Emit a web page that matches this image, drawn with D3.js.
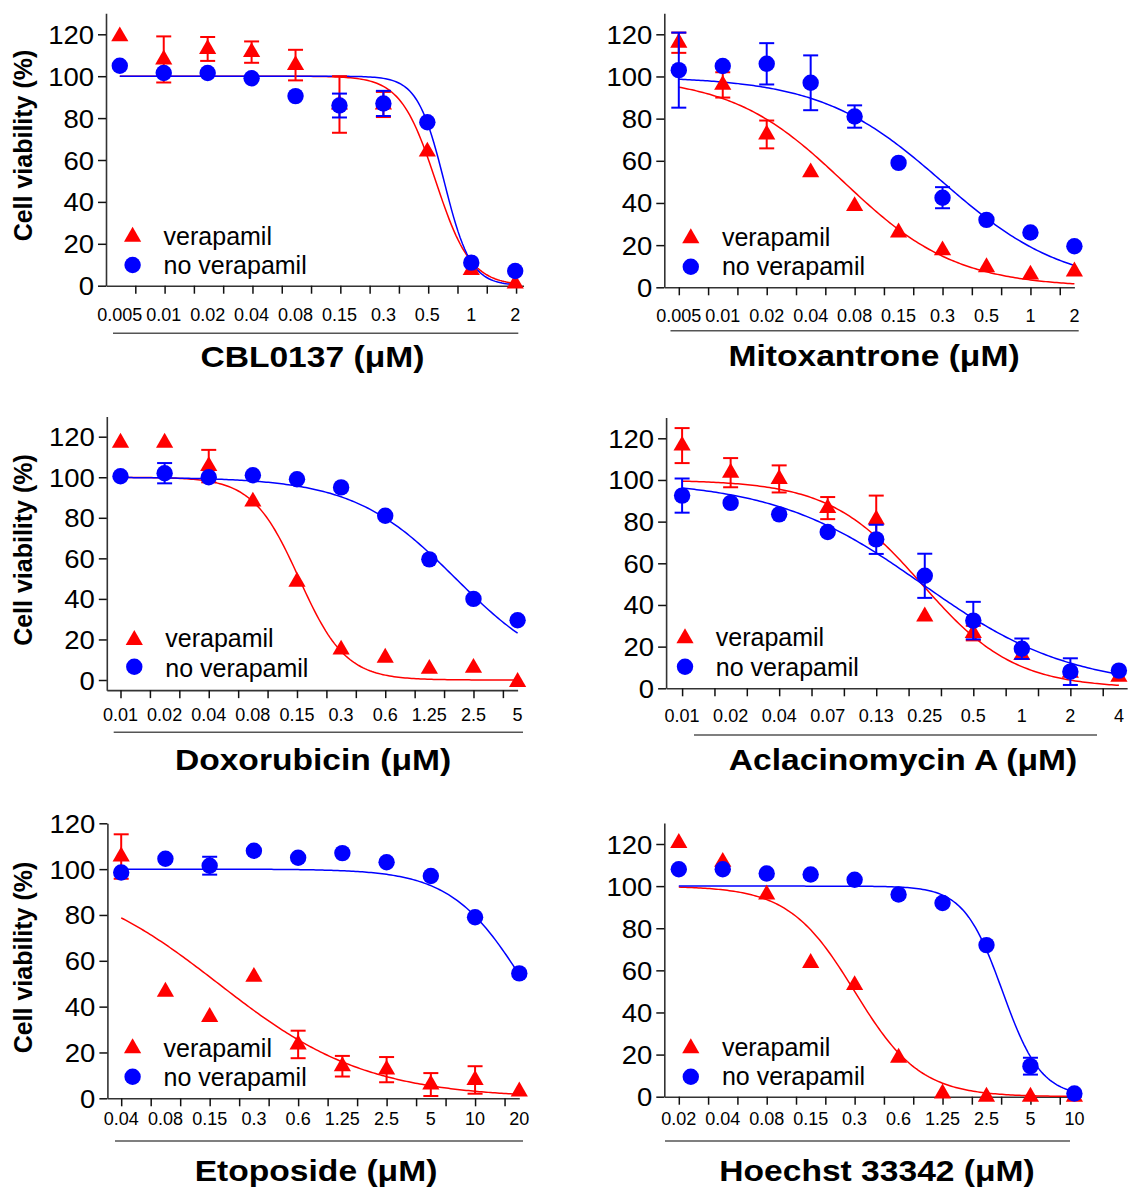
<!DOCTYPE html>
<html><head><meta charset="utf-8">
<script src="https://cdn.jsdelivr.net/npm/d3@7"></script>
<style>
html,body{margin:0;padding:0;background:#fff;}
svg{display:block;}
</style></head><body>
<svg id="chart" width="1128" height="1190"></svg>
<script>
// ---------- data ----------
const seriesNames = ["verapamil", "no verapamil"];
const yTickValues = [0, 20, 40, 60, 80, 100, 120];

// CBL0137
const cblDoses = ["0.005","0.01","0.02","0.04","0.08","0.15","0.3","0.5","1","2"];
const cblVera = [119, 108, 113, 111.5, 105.3, 86.5, 86.5, 64, 7.5, 1];
const cblVeraSD = [0, 11, 5.7, 5.1, 7.3, 13.5, 6, 0, 0, 0];
const cblNoVera = [105, 101.5, 101.5, 99, 90.5, 86, 87, 78, 11, 7];
const cblNoVeraSD = [0, 0, 0, 0, 0, 5.7, 6, 0, 0, 0];
const cblFitVera = [100, 0, 7.19, 2.5];
const cblFitNoVera = [100, 0, 7.38, 3.3];

// Mitoxantrone
const mitoDoses = ["0.005","0.01","0.02","0.04","0.08","0.15","0.3","0.5","1","2"];
const mitoVera = [116, 96, 72.5, 54.5, 38.5, 26, 17.5, 9.5, 6, 7.5];
const mitoVeraSD = [4.8, 6, 6.6, 0, 0, 0, 0, 0, 0, 0];
const mitoNoVera = [103, 105, 106, 97, 81, 59, 42.5, 32, 26, 19.5];
const mitoNoVeraSD = [17.8, 0, 9.8, 13, 5.3, 0, 5, 0, 0, 0];
const mitoFitVera = [100, 0, 3.75, 0.78];
const mitoFitNoVera = [100, 0, 6.0, 0.72];

// Doxorubicin
const doxoDoses = ["0.01","0.02","0.04","0.08","0.15","0.3","0.6","1.25","2.5","5"];
const doxoVera = [117, 117, 105.5, 88, 48.5, 15, 11, 5.5, 6, -1];
const doxoVeraSD = [0, 0, 8, 0, 0, 0, 0, 0, 0, 0];
const doxoNoVera = [100.5, 102, 100, 101, 99, 95, 81, 59.5, 40, 29.5];
const doxoNoVeraSD = [0, 5, 0, 0, 0, 0, 0, 0, 0, 0];
const doxoFitVera = [100, 0, 4.05, 1.9];
const doxoFitNoVera = [100, 0, 7.6, 0.86];

// Aclacinomycin A
const aclaDoses = ["0.01","0.02","0.04","0.07","0.13","0.25","0.5","1","2","4"];
const aclaVera = [116.5, 103.5, 100.5, 86.5, 81, 34.5, 26.5, 16, 7.5, 5.5];
const aclaVeraSD = [8.4, 7, 6.5, 5.3, 11.5, 0, 3.5, 0, 0, 0];
const aclaNoVera = [92.5, 89, 83.5, 75, 71.5, 54, 32.5, 19, 8, 8.5];
const aclaNoVeraSD = [8.2, 0, 0, 0, 7, 10.6, 9, 4.9, 6.4, 0];
const aclaFitVera = [100, 0, 4.94, 1.045];
const aclaFitNoVera = [100, 0, 4.95, 0.65];

// Etoposide
const etoDoses = ["0.04","0.08","0.15","0.3","0.6","1.25","2.5","5","10","20"];
const etoVera = [105.5, 46.5, 35.5, 53, 23.5, 14, 12.5, 6, 8, 3];
const etoVeraSD = [9.7, 0, 0, 0, 6, 4.5, 5.5, 5, 6, 0];
const etoNoVera = [98.5, 104.5, 101.5, 108, 105, 107, 103, 97, 79, 54.5];
const etoNoVeraSD = [0, 0, 3.9, 0, 0, 0, 0, 0, 0, 0];
const etoFitVera = [100, 0, 2.2, 0.595];
const etoFitNoVera = [100, 0, 9.13, 1.2];

// Hoechst 33342
const hoeDoses = ["0.02","0.04","0.08","0.15","0.3","0.6","1.25","2.5","5","10"];
const hoeVera = [120.5, 111.5, 96, 63.5, 53, 18.5, 1.5, 0, 0, 0];
const hoeVeraSD = [0, 0, 0, 0, 0, 0, 0, 0, 0, 0];
const hoeNoVera = [108, 108, 106, 105.5, 103, 96, 92, 72, 14.5, 1.5];
const hoeNoVeraSD = [0, 0, 0, 0, 0, 0, 0, 0, 4, 0];
const hoeFitVera = [100, 0, 4.0, 1.34];
const hoeFitNoVera = [100, 0, 7.365, 2.28];

// ---------- layout ----------
const panels = [
  {title:"CBL0137 (\u03BCM)", doses:cblDoses, vera:cblVera, veraSD:cblVeraSD, nov:cblNoVera, novSD:cblNoVeraSD, fitV:cblFitVera, fitN:cblFitNoVera,
   yDom:[0,130], axisX:106, x0:119.8, x9:515.2, xEnd:9.19, tickStart:0.353, y0:285.7, y120:34.3,
   labelY:320.7, lineY:333.3, lineX:[113,518.3], titleX:312.4, titleY:367.3, legMX:132.6, legTX:163.6, legY:[236.7,265], legTY:[245,273.5], yTitleY:145.5},
  {title:"Mitoxantrone (\u03BCM)", doses:mitoDoses, vera:mitoVera, veraSD:mitoVeraSD, nov:mitoNoVera, novSD:mitoNoVeraSD, fitV:mitoFitVera, fitN:mitoFitNoVera,
   yDom:[0,130], axisX:664.3, x0:678.8, x9:1074.4, xEnd:9.0, tickStart:0, y0:287.3, y120:34.3,
   labelY:321.7, lineY:330.7, lineX:[670.5,1078.7], titleX:874, titleY:366, legMX:690.8, legTX:721.9, legY:[238.3,266.7], legTY:[246,274.5], yTitleY:null},
  {title:"Doxorubicin (\u03BCM)", doses:doxoDoses, vera:doxoVera, veraSD:doxoVeraSD, nov:doxoNoVera, novSD:doxoNoVeraSD, fitV:doxoFitVera, fitN:doxoFitNoVera,
   yDom:[-5,130], axisX:106.8, x0:120.5, x9:517.6, xEnd:9.0, tickStart:0, y0:680, y120:436.7,
   labelY:721, lineY:732.3, lineX:[113.7,523], titleX:313, titleY:770, legMX:134.3, legTX:165.3, legY:[640,666.7], legTY:[647.3,676.7], yTitleY:550},
  {title:"Aclacinomycin A (\u03BCM)", doses:aclaDoses, vera:aclaVera, veraSD:aclaVeraSD, nov:aclaNoVera, novSD:aclaNoVeraSD, fitV:aclaFitVera, fitN:aclaFitNoVera,
   yDom:[0,130], axisX:666.1, x0:682.1, x9:1118.9, xEnd:9.17, tickStart:0, y0:688.3, y120:438.3,
   labelY:722, lineY:735, lineX:[694,1097], titleX:903, titleY:770, legMX:685, legTX:715.8, legY:[638.3,666.7], legTY:[645.5,676], yTitleY:null},
  {title:"Etoposide (\u03BCM)", doses:etoDoses, vera:etoVera, veraSD:etoVeraSD, nov:etoNoVera, novSD:etoNoVeraSD, fitV:etoFitVera, fitN:etoFitNoVera,
   yDom:[0,120], axisX:107.4, x0:121.2, x9:519.3, xEnd:9.0, tickStart:0, y0:1098.3, y120:823.3,
   labelY:1125, lineY:1141, lineX:[115,523], titleX:316, titleY:1181, legMX:132.6, legTX:163.6, legY:[1048.3,1076.7], legTY:[1056.7,1086], yTitleY:957.5},
  {title:"Hoechst 33342 (\u03BCM)", doses:hoeDoses, vera:hoeVera, veraSD:hoeVeraSD, nov:hoeNoVera, novSD:hoeNoVeraSD, fitV:hoeFitVera, fitN:hoeFitNoVera,
   yDom:[0,130], axisX:664.3, x0:678.8, x9:1074.4, xEnd:9.15, tickStart:0, y0:1096.7, y120:844,
   labelY:1125, lineY:1141, lineX:[665,1070], titleX:877, titleY:1181, legMX:690.8, legTX:721.9, legY:[1048.3,1076.7], legTY:[1055.5,1085], yTitleY:null}
];

const RED = "#ff0000", BLUE = "#0000ff";
const FONT = "'Liberation Sans', Arial, Helvetica, sans-serif";
const logistic = (p, v) => p[1] + (p[0] - p[1]) / (1 + Math.exp(p[3] * (v - p[2])));
const triSym = d3.symbol().type(d3.symbolTriangle).size(128);

const svg = d3.select("#chart");
svg.append("rect").attr("width", 1128).attr("height", 1190).attr("fill", "#fff");

panels.forEach(P => {
  const g = svg.append("g");
  const n = P.doses.length;
  const x = d3.scaleLinear().domain([0, n - 1]).range([P.x0, P.x9]);
  const y = d3.scaleLinear().domain([0, 120]).range([P.y0, P.y120]);
  const xa = x.copy().domain([x.invert(P.axisX), P.xEnd]).range([P.axisX, x(P.xEnd)]);
  const ya = y.copy().domain(P.yDom).range(P.yDom.map(v => y(v)));
  const baseY = y(P.yDom[0]);

  // y axis
  const yAx = g.append("g").attr("transform", `translate(${P.axisX},0)`)
    .call(d3.axisLeft(ya).tickValues(yTickValues).tickSize(8).tickSizeOuter(0));
  yAx.select(".domain").attr("stroke", "#333").attr("stroke-width", 1.6);
  yAx.selectAll(".tick line").attr("stroke", "#111").attr("stroke-width", 1.5);
  yAx.selectAll(".tick text").attr("x", 0).attr("dy", "0.36em")
    .attr("transform", "translate(-12,0) scale(1.1,1)")
    .attr("text-anchor", "end").attr("fill", "#000")
    .style("font-family", FONT).style("font-size", "25px");

  // x axis
  const lo = x.invert(P.axisX);
  const ticks = d3.range(P.tickStart, P.xEnd + 1e-6, 2 / 3).filter(t => t >= lo - 1e-6);
  const xAx = g.append("g").attr("transform", `translate(0,${baseY})`)
    .call(d3.axisBottom(xa).tickValues(ticks).tickSize(8).tickSizeOuter(0).tickFormat(() => ""));
  xAx.select(".domain").attr("stroke", "#333").attr("stroke-width", 1.6);
  xAx.selectAll(".tick line").attr("stroke", "#111").attr("stroke-width", 1.5);

  // dose labels
  g.selectAll("text.dose").data(P.doses).join("text").attr("class", "dose")
    .attr("transform", (d, i) => `translate(${x(i)},${P.labelY})`)
    .attr("text-anchor", "middle").style("font-family", FONT).style("font-size", "18px")
    .text(d => d);

  // underline
  g.append("line").attr("x1", P.lineX[0]).attr("x2", P.lineX[1])
    .attr("y1", P.lineY).attr("y2", P.lineY).attr("stroke", "#555").attr("stroke-width", 1.5);

  // title
  g.append("text").attr("transform", `translate(${P.titleX},${P.titleY}) scale(1.12,1)`)
    .attr("text-anchor", "middle").style("font-family", FONT).style("font-weight", "bold")
    .style("font-size", "30px").text(P.title);

  // y title
  if (P.yTitleY !== null) {
    g.append("text").attr("transform", `translate(31.5,${P.yTitleY}) rotate(-90)`)
      .attr("text-anchor", "middle").style("font-family", FONT).style("font-weight", "bold")
      .style("font-size", "25px").text("Cell viability (%)");
  }

  // fit curves
  const xs = d3.range(0, n - 1 + 1e-6, 0.05);
  const mkLine = p => d3.line().x(v => x(v)).y(v => y(logistic(p, v)));
  g.append("path").attr("d", mkLine(P.fitV)(xs)).attr("fill", "none").attr("stroke", RED).attr("stroke-width", 1.5);
  g.append("path").attr("d", mkLine(P.fitN)(xs)).attr("fill", "none").attr("stroke", BLUE).attr("stroke-width", 1.5);

  // error bars helper
  const errBars = (vals, sds, color) => {
    const eg = g.append("g").attr("stroke", color).attr("stroke-width", 2).attr("fill", "none");
    vals.forEach((m, i) => {
      const s = sds[i];
      if (!s) return;
      const cx = x(i), yt = y(m + s), yb = y(m - s);
      eg.append("line").attr("x1", cx).attr("x2", cx).attr("y1", yt).attr("y2", yb);
      eg.append("line").attr("x1", cx - 7.5).attr("x2", cx + 7.5).attr("y1", yt).attr("y2", yt);
      eg.append("line").attr("x1", cx - 7.5).attr("x2", cx + 7.5).attr("y1", yb).attr("y2", yb);
    });
  };

  errBars(P.vera, P.veraSD, RED);
  g.selectAll("path.tri").data(P.vera).join("path").attr("class", "tri")
    .attr("d", triSym).attr("fill", RED)
    .attr("transform", (d, i) => `translate(${x(i)},${y(d)})`);

  errBars(P.nov, P.novSD, BLUE);
  g.selectAll("circle.dot").data(P.nov).join("circle").attr("class", "dot")
    .attr("cx", (d, i) => x(i)).attr("cy", d => y(d)).attr("r", 8.2).attr("fill", BLUE);

  // legend
  g.append("path").attr("d", triSym).attr("fill", RED).attr("transform", `translate(${P.legMX},${P.legY[0]})`);
  g.append("circle").attr("cx", P.legMX).attr("cy", P.legY[1]).attr("r", 8.2).attr("fill", BLUE);
  seriesNames.forEach((s, k) => {
    g.append("text").attr("x", P.legTX).attr("y", P.legTY[k])
      .style("font-family", FONT).style("font-size", "25px").text(s);
  });
});
</script>
</body></html>
